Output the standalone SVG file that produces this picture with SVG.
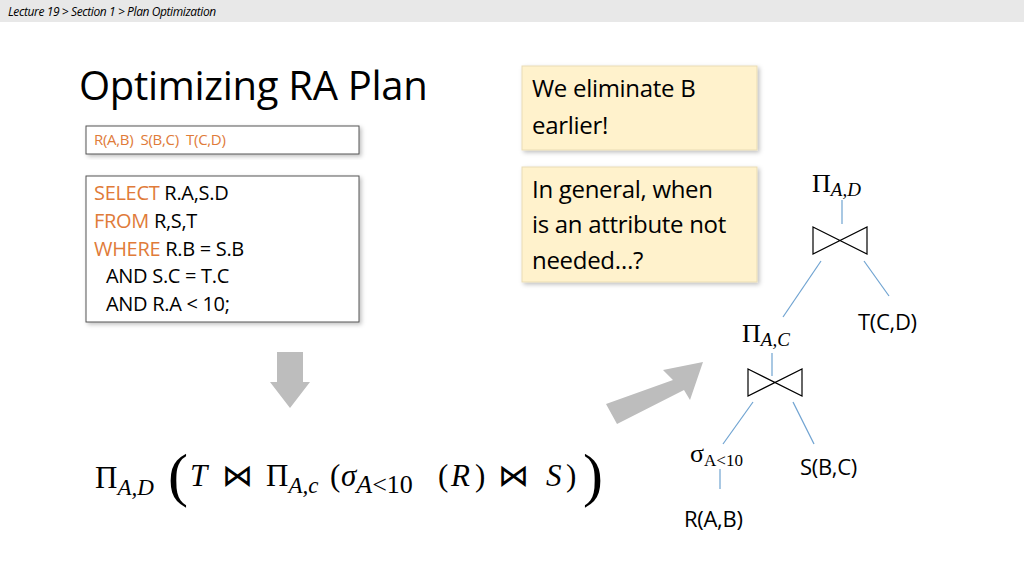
<svg xmlns="http://www.w3.org/2000/svg" width="1024" height="576" viewBox="0 0 1024 576">
<defs>
<style>
.s{font-family:"Open Sans",Lato,sans-serif;fill:#000}
.o{fill:#e07b39}
.m{font-family:"Liberation Serif",serif;font-style:italic}
.mr{font-family:"Liberation Serif",serif}
.e{stroke:#6fa3d1;stroke-width:1.2;fill:none}
.bt{fill:#fff;stroke:#000;stroke-width:1.2}
.note{fill:#fff2cc;stroke:#e9dcb5;stroke-width:1}
.arr{fill:#bdbdbd}
</style>
<filter id="sh" x="-10%" y="-10%" width="130%" height="130%"><feDropShadow dx="2" dy="2" stdDeviation="2" flood-color="#000" flood-opacity="0.25"/></filter>
</defs>
<rect width="1024" height="576" fill="#fff"/>
<rect width="1024" height="22" fill="#e8e8e8"/>
<text x="8" y="16" class="s" font-size="12" font-style="italic" fill="#333" letter-spacing="-0.4">Lecture 19 &gt; Section 1 &gt; Plan Optimization</text>
<text x="79" y="100" class="s" font-size="40" fill="#222" letter-spacing="-0.3">Optimizing RA Plan</text>
<g id="schema">
<rect x="86" y="126" width="273" height="28" fill="#fff" stroke="#555" filter="url(#sh)"/>
<text x="94" y="145" class="s o" font-size="15" letter-spacing="-0.3" xml:space="preserve">R(A,B)  S(B,C)  T(C,D)</text>
</g>
<g id="sql">
<rect x="86" y="176" width="273" height="146" fill="#fff" stroke="#555" filter="url(#sh)"/>
<text class="s" font-size="20" letter-spacing="-0.3"><tspan x="94" y="200"><tspan class="o">SELECT</tspan> R.A,S.D</tspan><tspan x="94" y="228"><tspan class="o">FROM</tspan> R,S,T</tspan><tspan x="94" y="256"><tspan class="o">WHERE</tspan> R.B = S.B</tspan><tspan x="106" y="283">AND S.C = T.C</tspan><tspan x="106" y="311">AND R.A &lt; 10;</tspan></text>
</g>
<g id="note1">
<rect x="522" y="66" width="235" height="84" class="note" filter="url(#sh)"/>
<text class="s" font-size="24" letter-spacing="-0.3"><tspan x="532" y="97">We eliminate B</tspan><tspan x="532" y="134">earlier!</tspan></text>
</g>
<g id="note2">
<rect x="522" y="167" width="235" height="115" class="note" filter="url(#sh)"/>
<text class="s" font-size="24" letter-spacing="-0.3"><tspan x="532" y="198">In general, when</tspan><tspan x="532" y="233">is an attribute not</tspan><tspan x="532" y="269">needed…?</tspan></text>
</g>
<polygon class="arr" points="277,352 303,352 303,382 310,382 290,408 270,382 277,382"/>
<polygon class="arr" points="606,404 617,424 684,390 690,400 703,362 663,370 673,380"/>
<g id="formula" font-size="31">
<text x="95" y="488" class="mr">Π<tspan class="m" font-size="23" dy="7">A,D</tspan></text>
<text x="168" y="495" class="mr" font-size="60">(</text>
<text x="190" y="486" class="m">T</text>
<text x="222" y="486" class="mr">⋈</text>
<text x="266" y="486" class="mr">Π<tspan class="m" font-size="23" dy="7">A,c</tspan></text>
<text x="330" y="486" class="mr">(</text>
<text x="341" y="486" class="m">σ<tspan font-size="26" dy="7">A</tspan><tspan class="mr" font-style="normal" font-size="26">&lt;10</tspan></text>
<text x="438" y="486" class="mr">(</text>
<text x="451" y="486" class="m">R</text>
<text x="475" y="486" class="mr">)</text>
<text x="498" y="486" class="mr">⋈</text>
<text x="546" y="486" class="m">S</text>
<text x="566" y="486" class="mr">)</text>
<text x="583" y="495" class="mr" font-size="60">)</text>
</g>
<g id="connectors">
<line class="e" x1="842" y1="200" x2="842" y2="224"/>
<line class="e" x1="821" y1="261" x2="783" y2="317"/>
<line class="e" x1="864" y1="261" x2="889" y2="296"/>
<line class="e" x1="772" y1="353" x2="772" y2="376"/>
<line class="e" x1="753" y1="402" x2="723" y2="444"/>
<line class="e" x1="793" y1="402" x2="814" y2="444"/>
<line class="e" x1="720" y1="469" x2="720" y2="489"/>
</g>
<g id="piAD"><text x="812" y="192" class="mr" font-size="26">Π<tspan class="m" font-size="19" dy="4">A,D</tspan></text></g>
<g id="join1"><polygon class="bt" points="813,227 867,254 867,227 813,254"/></g>
<g id="T"><text x="858" y="330" class="s" font-size="22" letter-spacing="-0.3">T(C,D)</text></g>
<g id="piAC"><text x="742" y="342" class="mr" font-size="26">Π<tspan class="m" font-size="19" dy="4">A,C</tspan></text></g>
<g id="join2"><polygon class="bt" points="748,369 802,396 802,369 748,396"/></g>
<g id="sigma"><text x="690" y="462" class="mr" font-size="26">σ<tspan font-size="17" dy="4">A&lt;10</tspan></text></g>
<g id="S"><text x="800" y="475" class="s" font-size="22" letter-spacing="-0.3">S(B,C)</text></g>
<g id="R"><text x="684" y="527" class="s" font-size="22" letter-spacing="-0.3">R(A,B)</text></g>
</svg>
